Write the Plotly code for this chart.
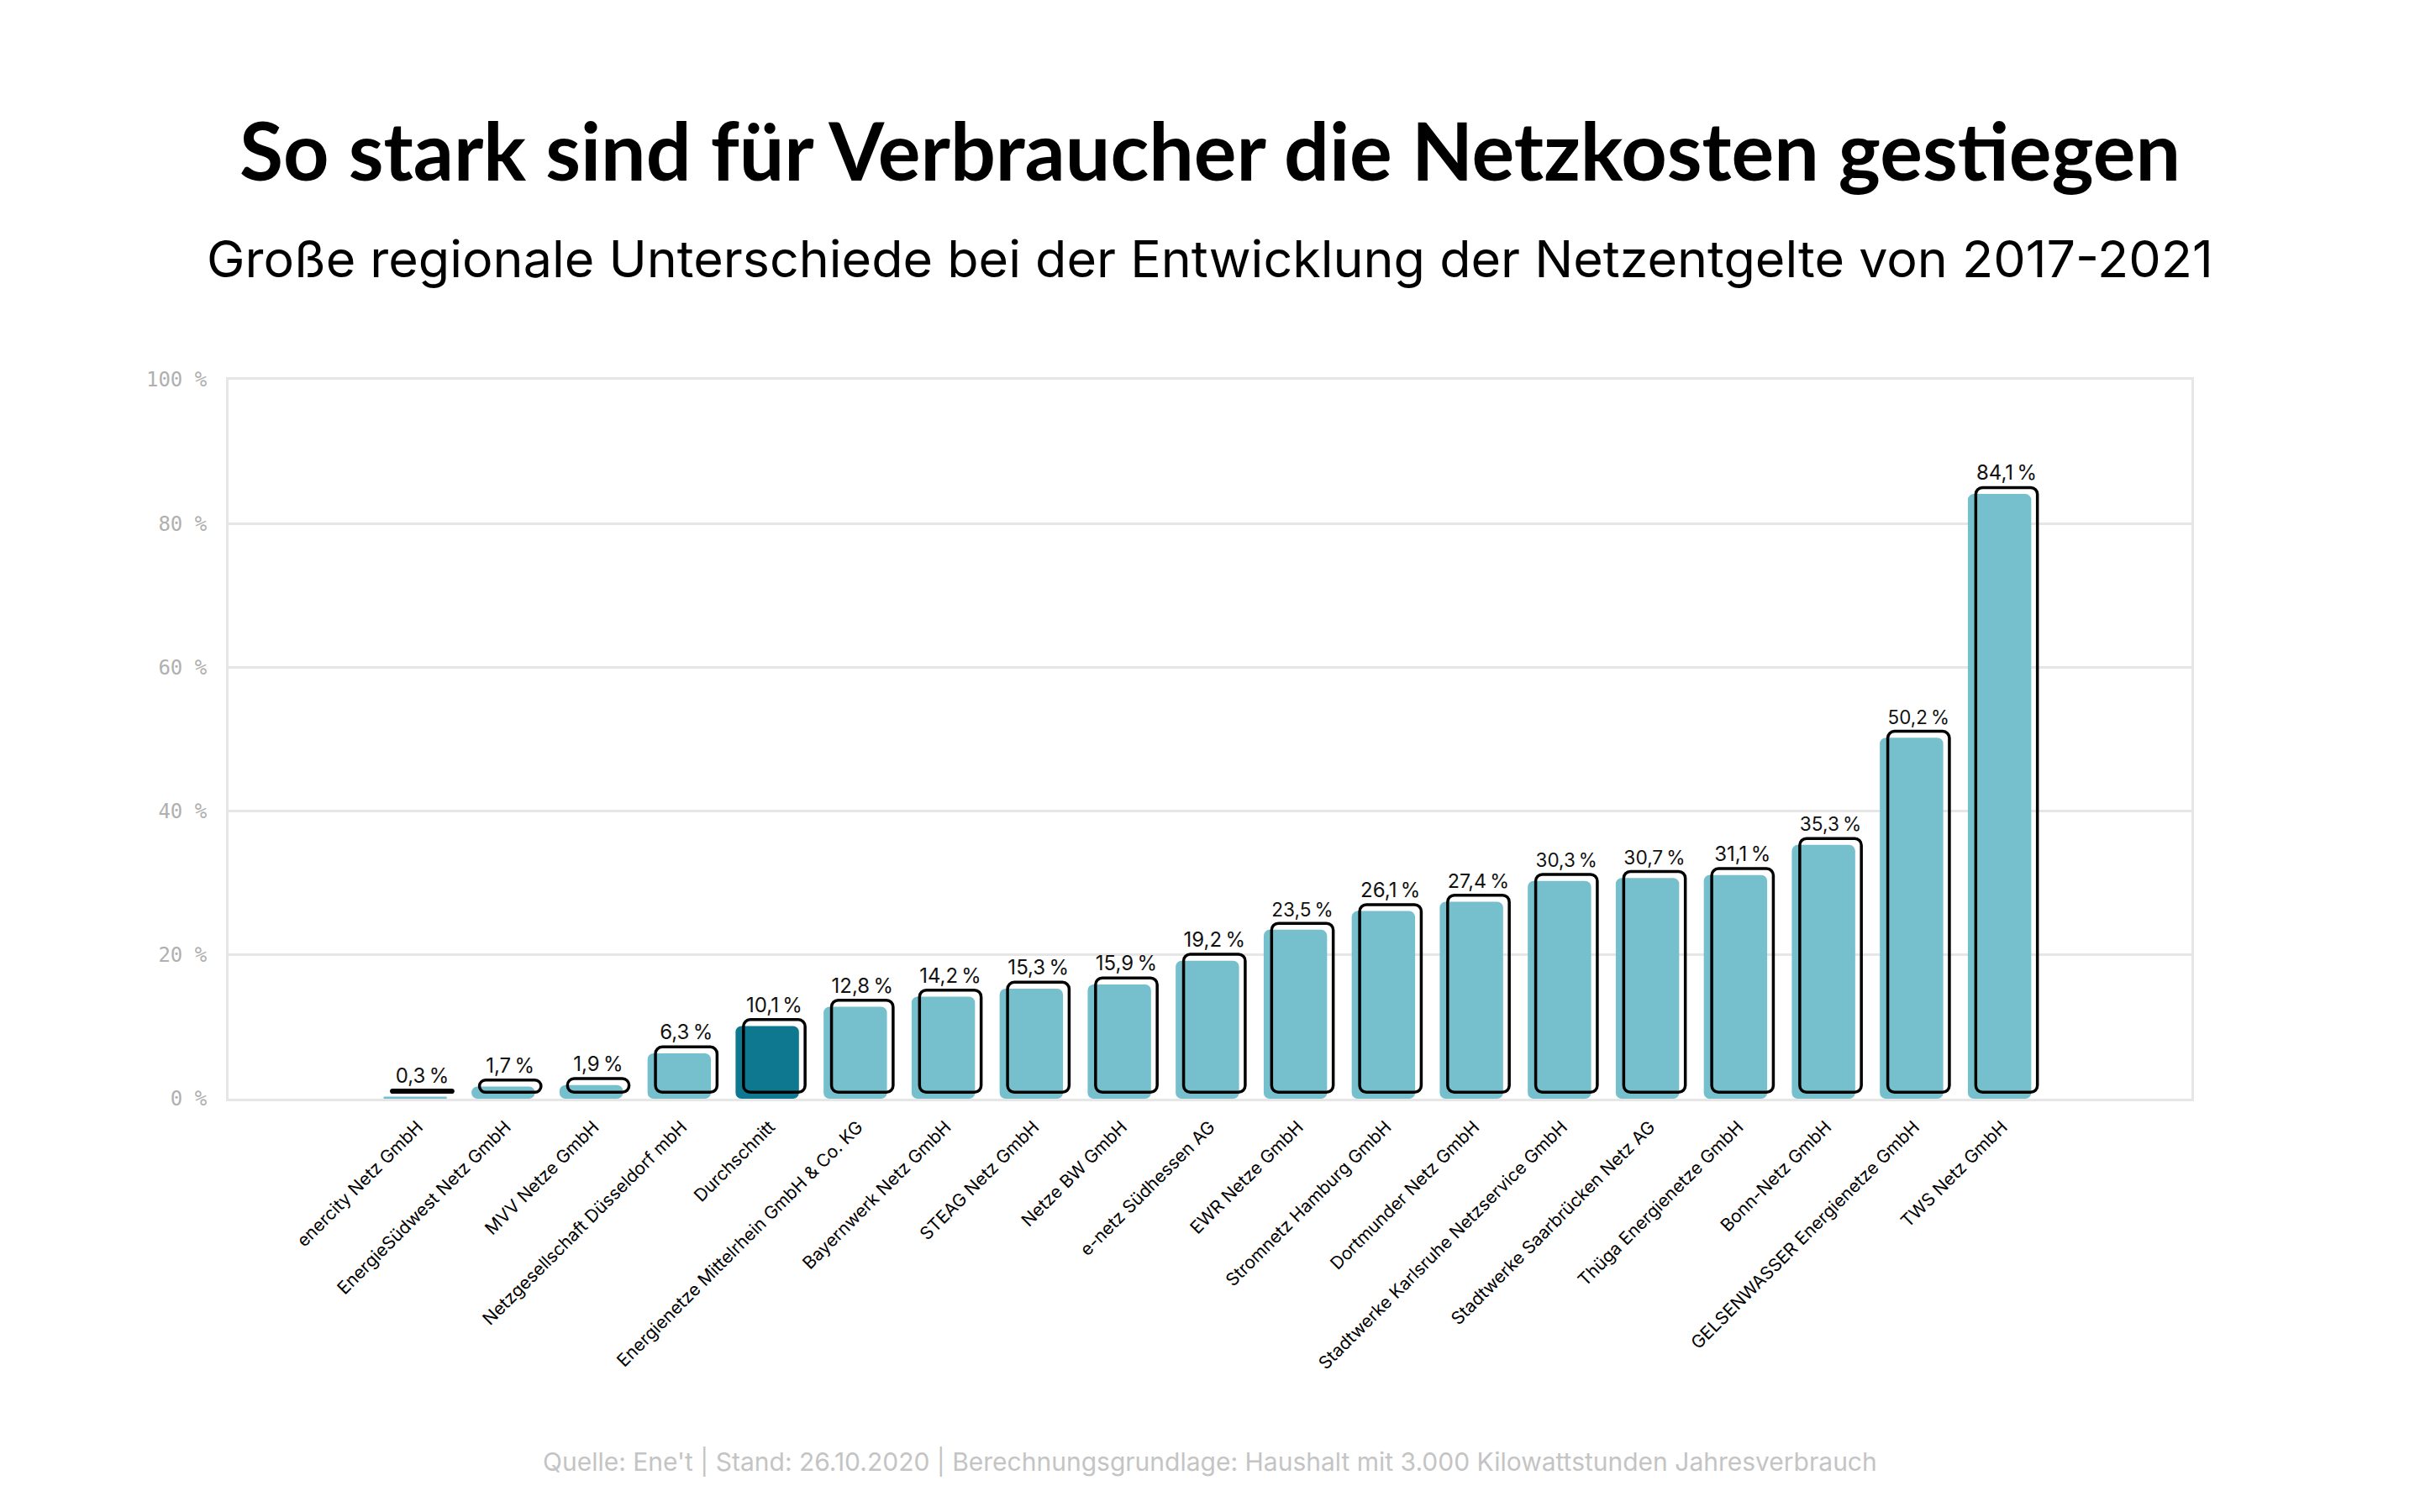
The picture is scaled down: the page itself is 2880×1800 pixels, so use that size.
import plotly.graph_objects as go

categories = [
    "enercity Netz GmbH", "EnergieSüdwest Netz GmbH", "MVV Netze GmbH",
    "Netzgesellschaft Düsseldorf mbH", "Durchschnitt",
    "Energienetze Mittelrhein GmbH & Co. KG", "Bayernwerk Netz GmbH",
    "STEAG Netz GmbH", "Netze BW GmbH", "e-netz Südhessen AG", "EWR Netze GmbH",
    "Stromnetz Hamburg GmbH", "Dortmunder Netz GmbH",
    "Stadtwerke Karlsruhe Netzservice GmbH", "Stadtwerke Saarbrücken Netz AG",
    "Thüga Energienetze GmbH", "Bonn-Netz GmbH", "GELSENWASSER Energienetze GmbH",
    "TWS Netz GmbH",
]
values = [0.3, 1.7, 1.9, 6.3, 10.1, 12.8, 14.2, 15.3, 15.9, 19.2, 23.5, 26.1,
          27.4, 30.3, 30.7, 31.1, 35.3, 50.2, 84.1]
highlight = "Durchschnitt"
y_tickvals = [0, 20, 40, 60, 80, 100]

LIGHT = "#76C0CE"
DARK = "#0E7891"

value_labels = [f"{v:.1f}".replace(".", ",") + "\u2009%" for v in values]
fill_colors = [DARK if c == highlight else LIGHT for c in categories]
y_ticktext = [f"{v}\u2009%" for v in y_tickvals]

fig = go.Figure()

# filled bars (slightly shifted left)
fig.add_trace(go.Bar(
    x=categories, y=values, base=0,
    width=0.72, offset=-0.39,
    marker=dict(color=fill_colors, line=dict(width=0), cornerradius=7),
    hoverinfo="skip", showlegend=False,
))

# outline bars (shifted up/right, sketch effect)
fig.add_trace(go.Bar(
    x=categories, y=values, base=0.9,
    width=0.70, offset=-0.30,
    marker=dict(color="rgba(0,0,0,0)", line=dict(color="#000000", width=3.5),
                cornerradius=8),
    text=value_labels, textposition="outside",
    textfont=dict(family="Inter, Roboto, sans-serif", size=24, color="#111111"),
    cliponaxis=False,
    hoverinfo="skip", showlegend=False,
))

fig.update_layout(
    width=2880, height=1800,
    margin=dict(l=272, r=272, t=452, b=492),
    paper_bgcolor="white", plot_bgcolor="white",
    barmode="overlay",
    font=dict(family="Inter, Roboto, sans-serif", color="#000000"),
    xaxis=dict(
        type="category", range=[-2.15, 20.15],
        showgrid=False, showline=True, mirror=True,
        linecolor="#E6E6E6", linewidth=3,
        ticks="", tickangle=-45, ticklabelstandoff=10,
        tickfont=dict(family="Inter, Roboto, sans-serif", size=21, color="#000000"),
        zeroline=False,
    ),
    yaxis=dict(
        range=[0, 100], tickvals=y_tickvals, ticktext=y_ticktext,
        showgrid=True, gridcolor="#E6E6E6", gridwidth=3,
        showline=True, mirror=True, linecolor="#E6E6E6", linewidth=3,
        ticks="", ticklabelstandoff=18, zeroline=False,
        tickfont=dict(family="DejaVu Sans Mono, Liberation Mono, monospace",
                      size=24, color="#B0B0B0"),
    ),
    annotations=[
        dict(text="<b>So stark sind für Verbraucher die Netzkosten gestiegen</b>",
             x=0.5, y=(1308 - 178) / 856, xref="paper", yref="paper",
             xanchor="center", yanchor="middle", showarrow=False,
             font=dict(family="Lato, Roboto, sans-serif",
                       size=95, color="#000000")),
        dict(text="Große regionale Unterschiede bei der Entwicklung der Netzentgelte von 2017-2021",
             x=0.5, y=(1308 - 308) / 856, xref="paper", yref="paper",
             xanchor="center", yanchor="middle", showarrow=False,
             font=dict(family="Inter, Roboto, sans-serif", size=61, color="#000000")),
        dict(text="Quelle: Ene't | Stand: 26.10.2020 | Berechnungsgrundlage: Haushalt mit 3.000 Kilowattstunden Jahresverbrauch",
             x=0.5, y=(1308 - 1740) / 856, xref="paper", yref="paper",
             xanchor="center", yanchor="middle", showarrow=False,
             font=dict(family="Inter, Roboto, sans-serif", size=30, color="#C4C4C4")),
    ],
)

fig.write_html("out.html")
